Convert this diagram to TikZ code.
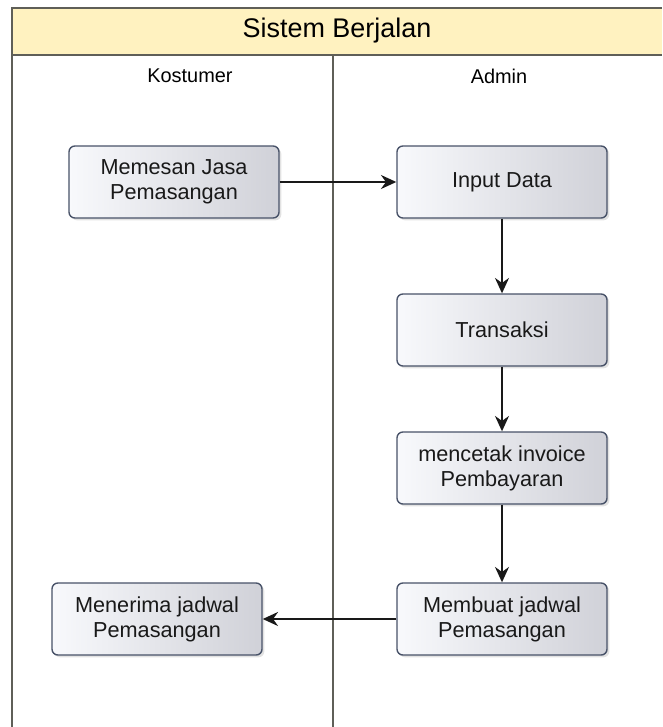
\documentclass[tikz,border=0pt]{standalone}
\usepackage{fontspec}
\setmainfont{Liberation Sans}
\usetikzlibrary{arrows.meta,shadows}

\definecolor{bandfill}{RGB}{255,242,192}
\definecolor{frameline}{RGB}{95,95,88}
\definecolor{boxline}{RGB}{72,82,104}
\definecolor{boxlight}{RGB}{248,249,252}
\definecolor{boxdark}{RGB}{208,209,216}

\begin{document}
\begin{tikzpicture}[x=0.03cm, y=-0.03cm,
    proc/.style = {draw=boxline, line width=1.2pt, rounded corners=5pt,
        left color=boxlight, right color=boxdark,
        drop shadow={shadow xshift=2pt, shadow yshift=-2pt, fill=gray!45, opacity=.5},
        minimum width=6.3cm, minimum height=2.16cm, align=center,
        font=\fontsize{18.5}{21.5}\selectfont, text=black!90},
    lane/.style = {draw=frameline, line width=1.4pt},
    flow/.style = {line width=1.7pt, black!90, -{Stealth[length=4.6mm, width=4.2mm]}}]
    \useasboundingbox (0,0) rectangle (662,727);
    % swimlane frame
    \fill[bandfill] (12,8) rectangle (662,55);
    \draw[lane] (12,727) -- (12,8) -- (662,8);
    \draw[lane] (12,55) -- (662,55);
    \draw[lane] (333,55) -- (333,727);
    \node (title) at (337,31) {\fontsize{23}{27}\selectfont Sistem Berjalan};
    \node (kost) at (190,76) {\fontsize{17}{20}\selectfont Kostumer};
    \node (admin) at (499,76) {\fontsize{17}{20}\selectfont Admin};
    % steps
    \node[proc] (1) at (174,182) {Memesan Jasa\\Pemasangan};
    \node[proc] (2) at (502,182) {Input Data};
    \node[proc] (3) at (502,330) {Transaksi};
    \node[proc] (4) at (502,468) {mencetak invoice\\Pembayaran};
    \node[proc] (5) at (502,619) {Membuat jadwal\\Pemasangan};
    \node[proc] (6) at (157,619) {Menerima jadwal\\Pemasangan};
    \draw[flow] (1) -- (2);
    \draw[flow] (2) -- (3);
    \draw[flow] (3) -- (4);
    \draw[flow] (4) -- (5);
    \draw[flow] (5) -- (6);
\end{tikzpicture}
\end{document}
